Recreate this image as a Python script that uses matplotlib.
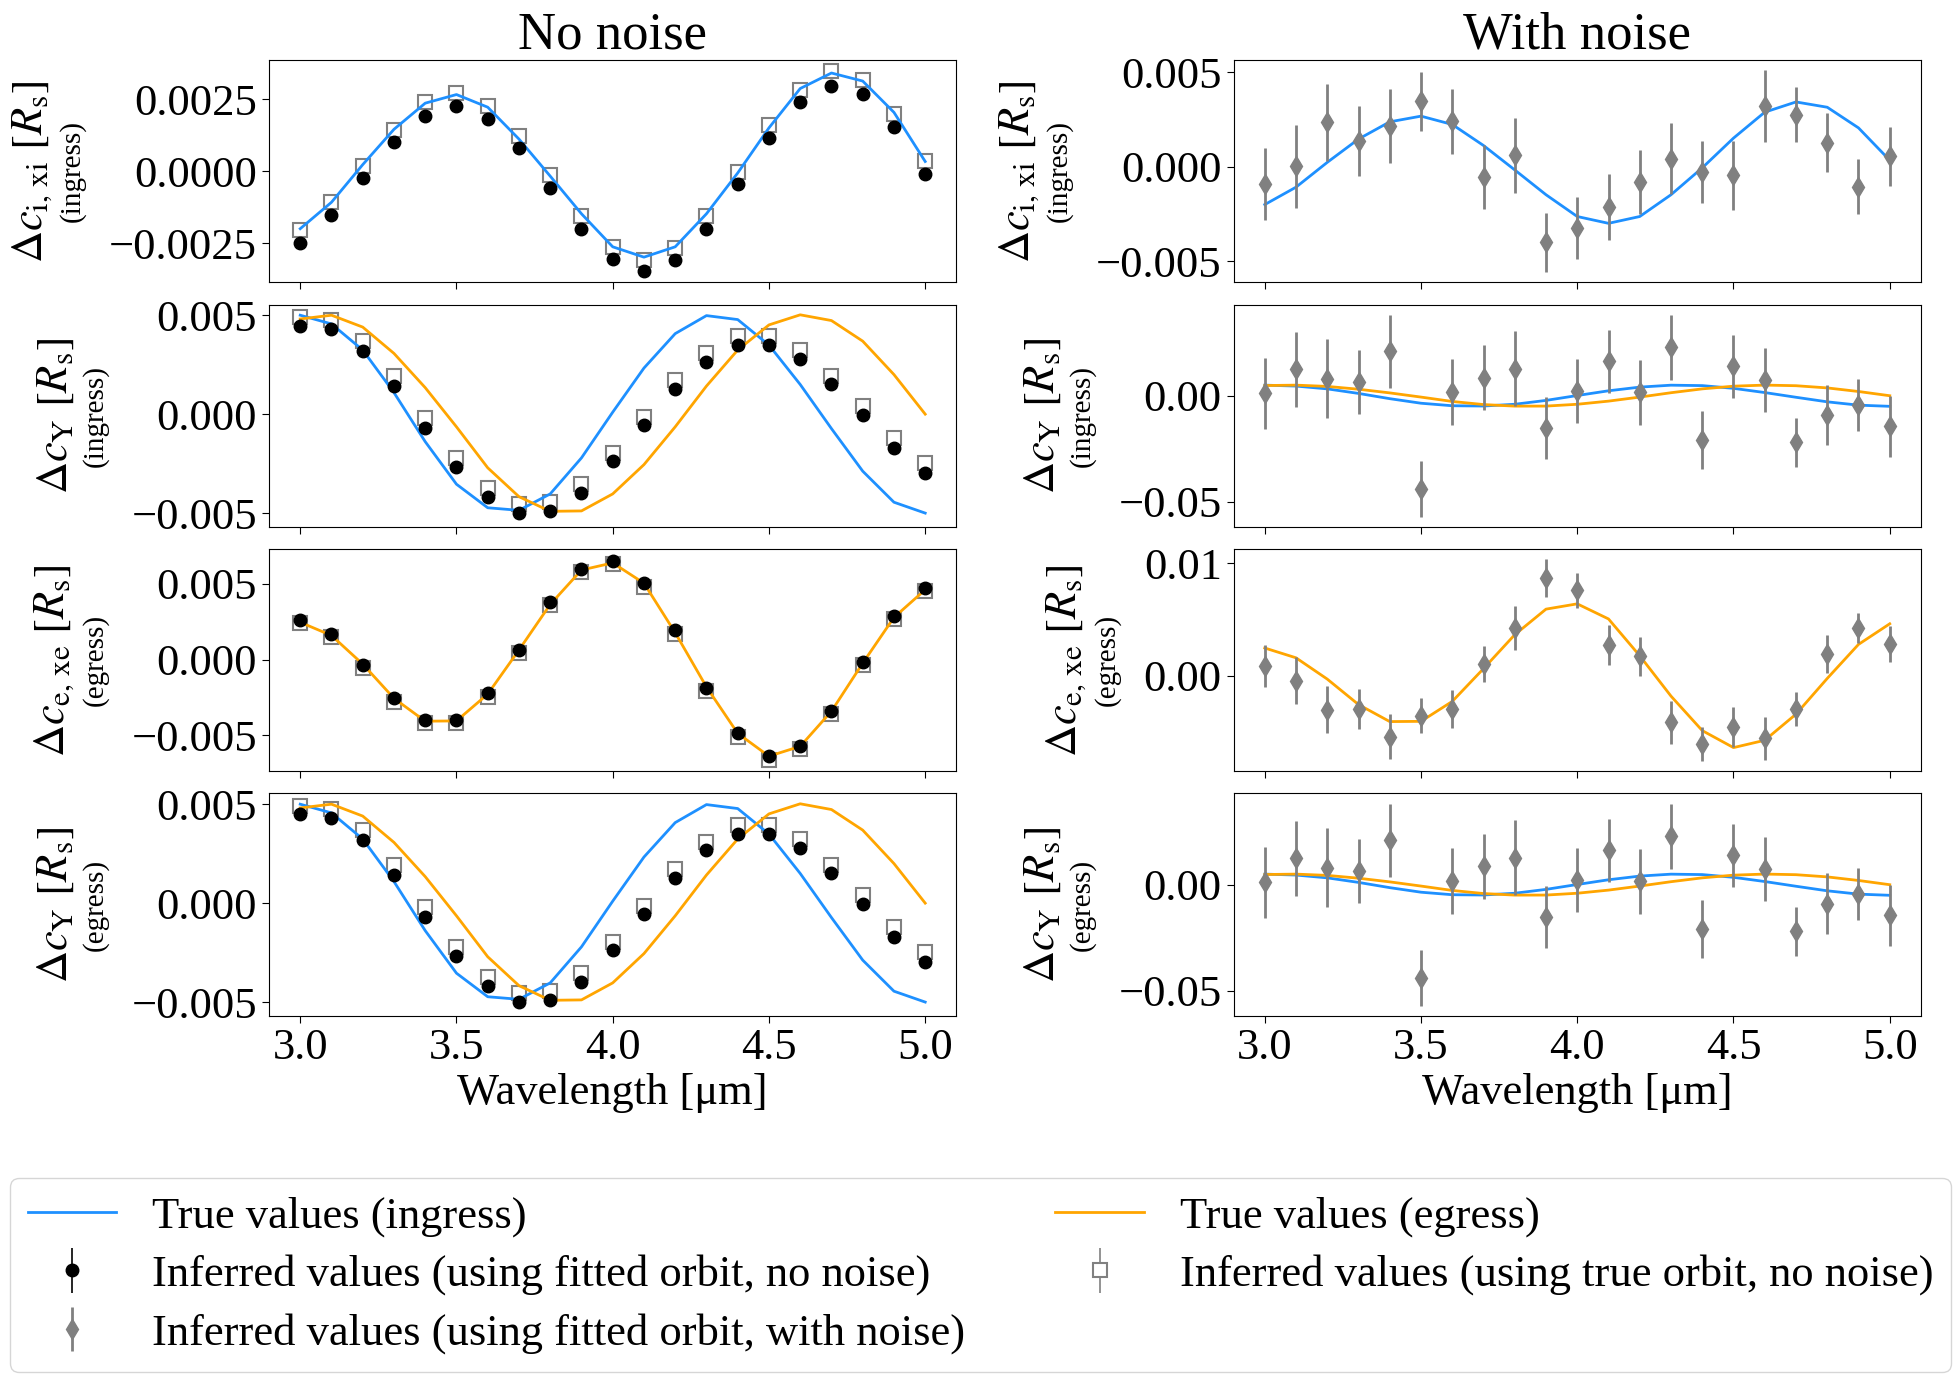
import matplotlib
matplotlib.use('Agg')
import matplotlib.pyplot as plt

plt.rcParams['font.family'] = ['Liberation Serif', 'DejaVu Serif']
plt.rcParams['mathtext.fontset'] = 'stix'
plt.rcParams['font.size'] = 32
plt.rcParams['axes.unicode_minus'] = True

# ---------------- data ----------------
wavelength = [3.0, 3.1, 3.2, 3.3, 3.4, 3.5, 3.6, 3.7, 3.8, 3.9, 4.0,
              4.1, 4.2, 4.3, 4.4, 4.5, 4.6, 4.7, 4.8, 4.9, 5.0]

# c_i,xi (ingress)
cixi_true = [-0.00200, -0.00108, 0.00023, 0.00146, 0.00237, 0.00267, 0.00223, 0.00112, -0.00017, -0.00148, -0.00263,
             -0.00299, -0.00263, -0.00148, -0.00006, 0.00151, 0.00288, 0.00342, 0.00314, 0.00205, 0.00034]
cixi_trueorb = [-0.00205, -0.00108, 0.00017, 0.00145, 0.00240, 0.00272, 0.00228, 0.00122, -0.00014, -0.00156, -0.00263,
                -0.00308, -0.00268, -0.00156, -0.00002, 0.00160, 0.00283, 0.00348, 0.00317, 0.00200, 0.00034]
cixi_fit = [-0.00249, -0.00151, -0.00025, 0.00103, 0.00192, 0.00226, 0.00183, 0.00080, -0.00057, -0.00202, -0.00306,
            -0.00348, -0.00308, -0.00200, -0.00046, 0.00116, 0.00240, 0.00297, 0.00268, 0.00154, -0.00011]
cixi_err_nonoise = [0.00004] * 21
cixi_noisy = [-0.00091, 0.00002, 0.00234, 0.00136, 0.00213, 0.00346, 0.00239, -0.00055, 0.00061, -0.00400, -0.00323,
              -0.00213, -0.00082, 0.00043, -0.00029, -0.00046, 0.00320, 0.00275, 0.00127, -0.00105, 0.00055]
cixi_noisy_err = [0.00190, 0.00220, 0.00205, 0.00184, 0.00196, 0.00155, 0.00170, 0.00170, 0.00198, 0.00158, 0.00164,
                  0.00174, 0.00170, 0.00188, 0.00163, 0.00180, 0.00190, 0.00146, 0.00157, 0.00145, 0.00155]

# c_Y (same for ingress and egress panels)
cY_true_ingress = [0.00500, 0.00456, 0.00324, 0.00109, -0.00139, -0.00354, -0.00473, -0.00486, -0.00403, -0.00221, 0.00010,
                   0.00233, 0.00407, 0.00498, 0.00478, 0.00349, 0.00150, -0.00073, -0.00288, -0.00445, -0.00500]
cY_true_egress = [0.00481, 0.00500, 0.00440, 0.00307, 0.00134, -0.00064, -0.00271, -0.00417, -0.00491, -0.00489, -0.00403,
                  -0.00255, -0.00064, 0.00142, 0.00324, 0.00451, 0.00502, 0.00473, 0.00369, 0.00200, 0.00000]
cY_trueorb = [0.00493, 0.00476, 0.00370, 0.00192, -0.00020, -0.00221, -0.00375, -0.00453, -0.00445, -0.00354, -0.00197,
              -0.00012, 0.00172, 0.00311, 0.00393, 0.00393, 0.00324, 0.00195, 0.00043, -0.00122, -0.00246]
cY_fit = [0.00448, 0.00431, 0.00319, 0.00142, -0.00069, -0.00268, -0.00420, -0.00499, -0.00489, -0.00400, -0.00238,
          -0.00053, 0.00126, 0.00266, 0.00349, 0.00349, 0.00278, 0.00150, -0.00003, -0.00169, -0.00296]
cY_err_nonoise = [0.00010, 0.00010, 0.00015, 0.00020, 0.00022, 0.00025, 0.00025, 0.00020, 0.00015, 0.00025, 0.00028,
                  0.00030, 0.00030, 0.00028, 0.00025, 0.00025, 0.00028, 0.00030, 0.00030, 0.00030, 0.00030]
cY_noisy = [0.0011, 0.0125, 0.0081, 0.0065, 0.0210, -0.0441, 0.0016, 0.0086, 0.0128, -0.0153, 0.0022,
            0.0162, 0.0016, 0.0229, -0.0207, 0.0139, 0.0073, -0.0220, -0.0090, -0.0044, -0.0145]
cY_noisy_err = [0.0167, 0.0176, 0.0187, 0.0152, 0.0172, 0.0131, 0.0156, 0.0153, 0.0176, 0.0145, 0.0150,
                0.0150, 0.0154, 0.0154, 0.0137, 0.0148, 0.0152, 0.0117, 0.0143, 0.0123, 0.0145]

# c_e,xe (egress)
cexe_true = [0.00246, 0.00159, -0.00030, -0.00256, -0.00407, -0.00405, -0.00228, 0.00063, 0.00364, 0.00591, 0.00638,
             0.00504, 0.00177, -0.00181, -0.00487, -0.00638, -0.00573, -0.00341, -0.00024, 0.00278, 0.00461]
cexe_trueorb = [0.00240, 0.00150, -0.00055, -0.00280, -0.00420, -0.00420, -0.00245, 0.00040, 0.00358, 0.00577, 0.00632,
                0.00482, 0.00170, -0.00205, -0.00508, -0.00660, -0.00592, -0.00362, -0.00038, 0.00268, 0.00450]
cexe_fit = [0.00261, 0.00170, -0.00034, -0.00256, -0.00397, -0.00397, -0.00222, 0.00060, 0.00379, 0.00597, 0.00651,
            0.00504, 0.00192, -0.00185, -0.00487, -0.00638, -0.00573, -0.00341, -0.00017, 0.00289, 0.00470]
cexe_err_nonoise = [0.00012] * 21
cexe_noisy = [0.00084, -0.00045, -0.00300, -0.00294, -0.00540, -0.00354, -0.00294, 0.00105, 0.00420, 0.00865, 0.00757,
              0.00276, 0.00174, -0.00414, -0.00607, -0.00456, -0.00556, -0.00294, 0.00195, 0.00426, 0.00279]
cexe_noisy_err = [0.00185, 0.00210, 0.00205, 0.00180, 0.00200, 0.00153, 0.00170, 0.00160, 0.00195, 0.00170, 0.00155,
                  0.00177, 0.00174, 0.00190, 0.00153, 0.00177, 0.00190, 0.00150, 0.00167, 0.00135, 0.00160]

ylabels = [r'$\Delta c_{\rm i,\,xi}\ [R_{\rm s}]$', r'$\Delta c_{\rm Y}\ [R_{\rm s}]$',
           r'$\Delta c_{\rm e,\,xe}\ [R_{\rm s}]$', r'$\Delta c_{\rm Y}\ [R_{\rm s}]$']
sublabels = ['(ingress)', '(ingress)', '(egress)', '(egress)']
left_yticks = [[-0.0025, 0.0, 0.0025], [-0.005, 0.0, 0.005], [-0.005, 0.0, 0.005], [-0.005, 0.0, 0.005]]
right_yticks = [[-0.005, 0.0, 0.005], [-0.05, 0.0], [0.0, 0.01], [-0.05, 0.0]]
xticks = [3.0, 3.5, 4.0, 4.5, 5.0]

BLUE = '#1E90FF'
ORANGE = '#FFA500'
GREY = '#808080'

fig, axes = plt.subplots(4, 2, figsize=(19.59, 13.83), dpi=100, sharex=True)
fig.subplots_adjust(left=0.1373, right=0.9806, top=0.9566, bottom=0.2654,
                    hspace=0.099, wspace=0.403)

rows = [
    dict(lines=[(cixi_true, BLUE)], sq=cixi_trueorb, circ=cixi_fit, err=cixi_err_nonoise,
         noisy=cixi_noisy, nerr=cixi_noisy_err),
    dict(lines=[(cY_true_ingress, BLUE), (cY_true_egress, ORANGE)], sq=cY_trueorb, circ=cY_fit,
         err=cY_err_nonoise, noisy=cY_noisy, nerr=cY_noisy_err),
    dict(lines=[(cexe_true, ORANGE)], sq=cexe_trueorb, circ=cexe_fit, err=cexe_err_nonoise,
         noisy=cexe_noisy, nerr=cexe_noisy_err),
    dict(lines=[(cY_true_ingress, BLUE), (cY_true_egress, ORANGE)], sq=cY_trueorb, circ=cY_fit,
         err=cY_err_nonoise, noisy=cY_noisy, nerr=cY_noisy_err),
]

handles = {}
for i, r in enumerate(rows):
    axl, axr = axes[i, 0], axes[i, 1]
    # left: no noise
    hs = axl.errorbar(wavelength, r['sq'], yerr=r['err'], fmt='s', ms=10, mfc='white', mec=GREY,
                      mew=1.5, ecolor=GREY, elinewidth=1.2, zorder=2)
    for vals, col in r['lines']:
        ln, = axl.plot(wavelength, vals, color=col, lw=2, zorder=2.5)
        handles[col] = ln
    hc = axl.errorbar(wavelength, r['circ'], yerr=r['err'], fmt='o', ms=9, color='black',
                      elinewidth=1.2, zorder=3)
    # right: with noise
    for vals, col in r['lines']:
        axr.plot(wavelength, vals, color=col, lw=2, zorder=2)
    hd = axr.errorbar(wavelength, r['noisy'], yerr=r['nerr'], fmt='d', ms=10, color=GREY,
                      elinewidth=2, zorder=3)
    if i == 0:
        handles['sq'] = hs
        handles['circ'] = hc
        handles['diam'] = hd
    axl.set_yticks(left_yticks[i])
    axr.set_yticks(right_yticks[i])
    for ax in (axl, axr):
        ax.set_ylabel(ylabels[i], fontsize=32, labelpad=40)
        ax.tick_params(labelsize=32, length=5)
        ax.annotate(sublabels[i], xy=(1.0, 0.5), xycoords=ax.yaxis.label,
                    xytext=(4, 0), textcoords='offset points', rotation=90,
                    ha='left', va='center', fontsize=21)

axes[3, 0].set_xticks(xticks)
for ax in axes[3]:
    ax.set_xlabel('Wavelength [μm]', fontsize=32)
axes[0, 0].set_title('No noise', fontsize=38, pad=8.5)
axes[0, 1].set_title('With noise', fontsize=38, pad=8.5)

leg_handles = [handles[BLUE], handles['circ'], handles['diam'], handles[ORANGE], handles['sq']]
leg_labels = ['True values (ingress)',
              'Inferred values (using fitted orbit, no noise)',
              'Inferred values (using fitted orbit, with noise)',
              'True values (egress)',
              'Inferred values (using true orbit, no noise)']
fig.legend(leg_handles, leg_labels, loc='center', ncol=2, mode='expand',
           bbox_to_anchor=(0.005, 0.006, 0.991, 0.144), fontsize=32,
           labelspacing=0.4, borderaxespad=0.0)

fig.savefig('out.png', dpi=100)
